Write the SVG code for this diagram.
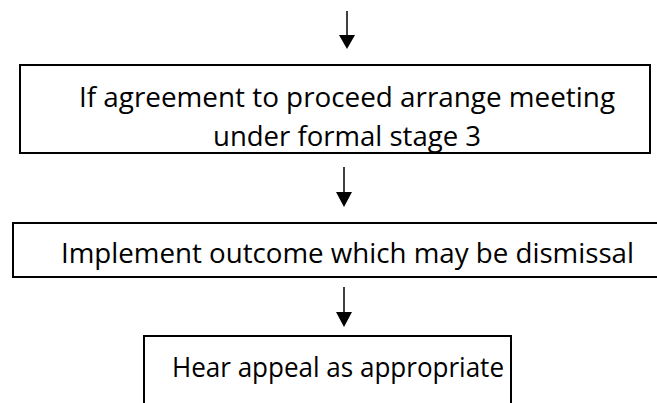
<svg xmlns="http://www.w3.org/2000/svg" width="657" height="403" viewBox="0 0 657 403">
<style>
.box{fill:#fff;stroke:#000;stroke-width:2}
.t{font-family:"Open Sans","Noto Sans",sans-serif;font-size:28px;fill:#000}
.c{stroke:#000;stroke-width:1.5;fill:none}
.h{fill:#000}
</style>
<rect width="657" height="403" fill="#fff"/>
<g id="connectors">
<line class="c" x1="347" y1="11" x2="347" y2="38"/>
<polygon class="h" points="339,35 355,35 347,49"/>
<line class="c" x1="344" y1="167" x2="344" y2="195"/>
<polygon class="h" points="336,192 352,192 344,207"/>
<line class="c" x1="344" y1="287" x2="344" y2="315"/>
<polygon class="h" points="336,312 352,312 344,327"/>
</g>
<g id="node1">
<rect class="box" x="20" y="65" width="630" height="88"/>
<text class="t" x="79" y="107" textLength="536" lengthAdjust="spacingAndGlyphs">If agreement to proceed arrange meeting</text>
<text class="t" x="213" y="146" textLength="268" lengthAdjust="spacingAndGlyphs">under formal stage 3</text>
</g>
<g id="node2">
<rect class="box" x="13" y="223" width="660" height="54"/>
<text class="t" x="61" y="263" textLength="573" lengthAdjust="spacingAndGlyphs">Implement outcome which may be dismissal</text>
</g>
<g id="node3">
<rect class="box" x="144" y="336" width="367" height="70"/>
<text class="t" x="172" y="377" textLength="332" lengthAdjust="spacingAndGlyphs">Hear appeal as appropriate</text>
</g>
</svg>
